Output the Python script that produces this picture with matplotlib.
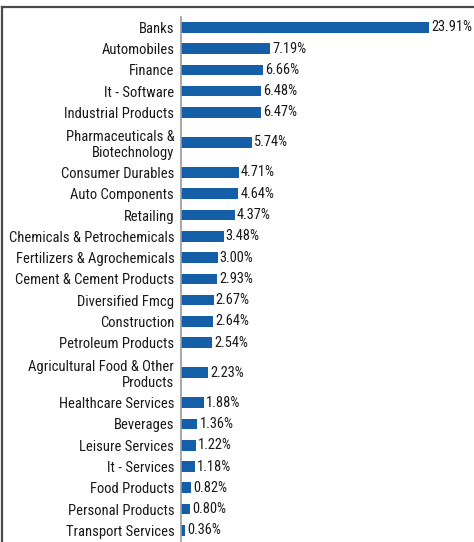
import matplotlib
matplotlib.use("Agg")
import matplotlib.pyplot as plt
from matplotlib.lines import Line2D
from matplotlib import font_manager

sectors = [
    "Banks", "Automobiles", "Finance", "It - Software", "Industrial Products",
    "Pharmaceuticals &\nBiotechnology", "Consumer Durables", "Auto Components",
    "Retailing", "Chemicals & Petrochemicals", "Fertilizers & Agrochemicals",
    "Cement & Cement Products", "Diversified Fmcg", "Construction",
    "Petroleum Products", "Agricultural Food & Other\nProducts",
    "Healthcare Services", "Beverages", "Leisure Services", "It - Services",
    "Food Products", "Personal Products", "Transport Services",
]
weights = [
    23.91, 7.19, 6.66, 6.48, 6.47, 5.74, 4.71, 4.64, 4.37, 3.48, 3.00, 2.93,
    2.67, 2.64, 2.54, 2.23, 1.88, 1.36, 1.22, 1.18, 0.82, 0.80, 0.36,
]

available = {f.name for f in font_manager.fontManager.ttflist}
family = [f for f in ["Roboto Condensed", "Archivo Narrow", "PT Sans Narrow",
                      "Liberation Sans", "DejaVu Sans"] if f in available]
plt.rcParams["font.family"] = family

BAR_COLOR = "#155fa8"
TEXT_COLOR = "#1a1a1a"
LABEL_FS = 10.5
VALUE_FS = 10.4

W, H = 474, 542
fig = plt.figure(figsize=(W / 100, H / 100), dpi=100)

# axes area in pixels: left edge at the category axis, right edge at the cap
left_px, right_px = 180.5, 429.0
top_px, bottom_px = 16.7, 541.0
ax = fig.add_axes([left_px / W, 1 - bottom_px / H,
                   (right_px - left_px) / W, (bottom_px - top_px) / H])

# row slots: two-line labels get a taller slot
slot = [1.0 if "\n" not in s else 1.82 for s in sectors]
centers = []
acc = 0.0
for h in slot:
    centers.append(acc + h / 2)
    acc += h
total = acc

xmax = 20.0
ax.barh(centers, weights, height=0.5, color=BAR_COLOR, zorder=2)
ax.set_ylim(total, 0)
ax.set_xlim(0, xmax)

ax.set_yticks(centers)
ax.set_yticklabels(sectors, fontsize=LABEL_FS, color=TEXT_COLOR, linespacing=1.17)
ax.tick_params(axis="y", length=0, pad=4.5)
ax.set_xticks([])

for side in ("top", "right", "bottom"):
    ax.spines[side].set_visible(False)
ax.spines["left"].set_color("#9a9a9a")
ax.spines["left"].set_linewidth(1.2)
ax.patch.set_visible(False)

for y, v in zip(centers, weights):
    ax.annotate(f"{v:.2f}%", xy=(min(v, xmax), y), xytext=(1.5, 0),
                textcoords="offset points", va="center", ha="left",
                fontsize=VALUE_FS, color=TEXT_COLOR, annotation_clip=False,
                clip_on=False)

# frame lines along the top and left edges of the figure
fig.add_artist(Line2D([1.8 / W, 1.0], [1 - 7 / H, 1 - 7 / H],
                      transform=fig.transFigure, color="#4a4a4a", lw=1.6))
fig.add_artist(Line2D([1.8 / W, 1.8 / W], [0, 1 - 7 / H],
                      transform=fig.transFigure, color="#4a4a4a", lw=1.6))

fig.savefig("out.png", dpi=100)
